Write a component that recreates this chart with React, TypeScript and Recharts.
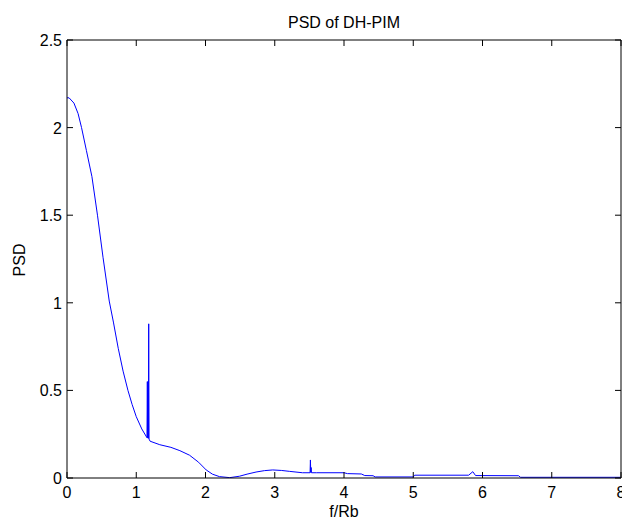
import React from "react";
import { Line, LineChart, XAxis, YAxis } from "recharts";

// f/Rb samples and PSD values
const freq = [
  0, 0.03, 0.1, 0.16, 0.21, 0.28, 0.36, 0.44, 0.52, 0.61, 0.67, 0.74, 0.81, 0.88, 0.94, 1.0, 1.08,
  1.155, 1.16, 1.165, 1.17, 1.175, 1.18, 1.185,
  1.2, 1.34, 1.5, 1.63, 1.77, 1.9, 2.01, 2.1, 2.2, 2.35, 2.49, 2.6, 2.73, 2.85, 2.97, 3.1, 3.21, 3.4,
  3.51, 3.515, 3.52, 3.525, 3.53,
  3.6, 4.0, 4.05, 4.25, 4.3, 4.42, 4.45, 5.0, 5.02, 5.8, 5.86, 5.9, 6.52, 6.55, 8
];
const psd = [
  2.17, 2.17, 2.14, 2.08, 2.0, 1.87, 1.72, 1.5, 1.26, 1.01, 0.89, 0.74, 0.61, 0.5, 0.42, 0.35, 0.28,
  0.23, 0.55, 0.228, 0.55, 0.226, 0.88, 0.222,
  0.21, 0.19, 0.175, 0.156, 0.13, 0.09, 0.046, 0.022, 0.008, 0.002, 0.01, 0.022, 0.034, 0.042, 0.046, 0.043, 0.038, 0.03,
  0.03, 0.103, 0.032, 0.06, 0.03,
  0.03, 0.03, 0.025, 0.023, 0.014, 0.013, 0.006, 0.006, 0.016, 0.016, 0.036, 0.014, 0.013, 0.004, 0.004
];

const xTicks = [0, 1, 2, 3, 4, 5, 6, 7, 8];
const yTicks = [0, 0.5, 1, 1.5, 2, 2.5];

const data = freq.map((f, i) => ({ f, psd: psd[i] }));

const FONT = "'Liberation Sans', Arial, Helvetica, sans-serif";
const TICK = 6;

function BottomTick({ x, y, payload }: any) {
  return (
    <g>
      <line x1={x} x2={x} y1={y} y2={y - TICK} stroke="#000" />
      <text x={x} y={y + 20} textAnchor="middle" fontSize={16} fontFamily={FONT} fill="#000">
        {String(payload.value)}
      </text>
    </g>
  );
}

function TopTick({ x, y }: any) {
  return <line x1={x} x2={x} y1={y} y2={y + TICK} stroke="#000" />;
}

function LeftTick({ x, y, payload }: any) {
  return (
    <g>
      <line x1={x} x2={x + TICK} y1={y} y2={y} stroke="#000" />
      <text x={x - 5} y={y + 6} textAnchor="end" fontSize={16} fontFamily={FONT} fill="#000">
        {String(payload.value)}
      </text>
    </g>
  );
}

function RightTick({ x, y }: any) {
  return <line x1={x} x2={x - TICK} y1={y} y2={y} stroke="#000" />;
}

export default function App() {
  return (
    <div style={{ position: "relative", width: 622, height: 520, background: "#fff" }}>
      <style>{"body{margin:0}"}</style>
      <LineChart width={622} height={520} data={data} margin={{ top: 39, right: 0, bottom: 12, left: 27 }}>
        <XAxis
          dataKey="f"
          type="number"
          domain={[0, 8]}
          ticks={xTicks}
          height={30}
          tickSize={0}
          tickMargin={0}
          tickLine={false}
          axisLine={{ stroke: "#000" }}
          tick={<BottomTick />}
          interval={0}
        />
        <XAxis
          xAxisId="top"
          orientation="top"
          dataKey="f"
          type="number"
          domain={[0, 8]}
          ticks={xTicks}
          height={1}
          tickSize={0}
          tickMargin={0}
          tickLine={false}
          axisLine={{ stroke: "#000" }}
          tick={<TopTick />}
          interval={0}
        />
        <YAxis
          type="number"
          domain={[0, 2.5]}
          ticks={yTicks}
          width={40}
          tickSize={0}
          tickMargin={0}
          tickLine={false}
          axisLine={{ stroke: "#000" }}
          tick={<LeftTick />}
          interval={0}
          allowDataOverflow
        />
        <YAxis
          yAxisId="right"
          orientation="right"
          type="number"
          domain={[0, 2.5]}
          ticks={yTicks}
          width={1}
          tickSize={0}
          tickMargin={0}
          tickLine={false}
          axisLine={{ stroke: "#000" }}
          tick={<RightTick />}
          interval={0}
          allowDataOverflow
        />
        <Line
          type="linear"
          dataKey="psd"
          stroke="#0000ff"
          strokeWidth={1}
          dot={false}
          activeDot={false}
          isAnimationActive={false}
        />
      </LineChart>
      <svg
        width={622}
        height={520}
        style={{ position: "absolute", left: 0, top: 0, pointerEvents: "none" }}
        fontFamily={FONT}
      >
        <text x={344} y={28} textAnchor="middle" fontSize={16} fill="#000">
          PSD of DH-PIM
        </text>
        <text x={344} y={517} textAnchor="middle" fontSize={16} fill="#000">
          f/Rb
        </text>
        <text x={25} y={260} textAnchor="middle" fontSize={16} fill="#000" transform="rotate(-90 25 260)">
          PSD
        </text>
      </svg>
    </div>
  );
}
